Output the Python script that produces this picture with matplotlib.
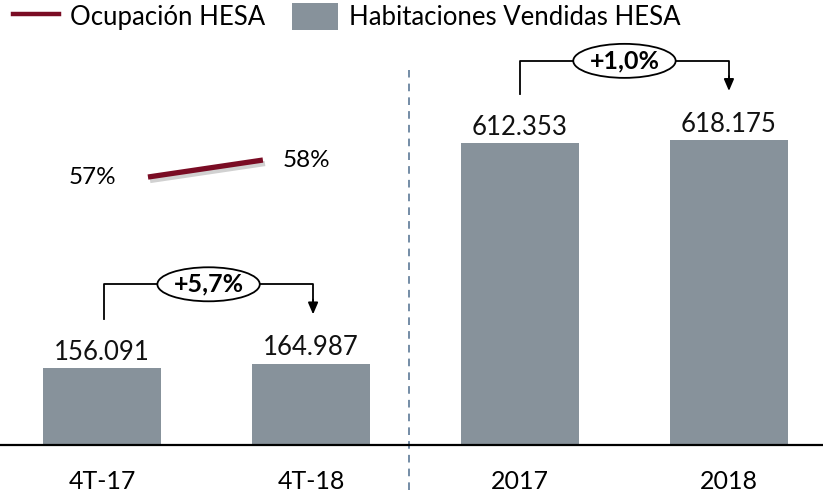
import matplotlib
matplotlib.use("Agg")
import matplotlib.pyplot as plt
import matplotlib.patheffects as pe
from matplotlib.patches import Ellipse
from matplotlib.lines import Line2D
from matplotlib.patches import Patch

categories = ["4T-17", "4T-18", "2017", "2018"]
habitaciones = [156.091, 164.987, 612.353, 618.175]
habitaciones_labels = ["156.091", "164.987", "612.353", "618.175"]
ocupacion = [57, 58]
ocupacion_labels = ["57%", "58%"]
variaciones = ["+5,7%", "+1,0%"]

BAR_COLOR = "#87929B"
LINE_COLOR = "#7A0C24"
FONT = "Lato"

plt.rcParams["font.family"] = [FONT, "DejaVu Sans"]

fig = plt.figure(figsize=(8.23, 4.96), dpi=100)
ax = fig.add_axes([0.0, 51 / 496, 1.0, 405 / 496])

x = list(range(len(categories)))
ax.bar(x, habitaciones, width=0.565, color=BAR_COLOR, zorder=2)
ax.set_xlim(-0.488, 3.45)
ax.set_ylim(0, 821.5)

for xi, v, lab in zip(x, habitaciones, habitaciones_labels):
    ax.text(xi, v + 17, lab, ha="center", va="baseline", fontsize=18.5,
            color="#111111")

ax.set_xticks(x)
ax.set_xticklabels(categories, fontsize=18)
ax.tick_params(axis="x", length=0, pad=18)
ax.set_yticks([])
for s in ["left", "right", "top"]:
    ax.spines[s].set_visible(False)
ax.spines["bottom"].set_linewidth(1.6)
ax.spines["bottom"].set_color("black")

# dashed separator between quarterly and annual figures
ax.plot([1.47, 1.47], [-92, 760], ls=(0, (5, 4)), color="#4E6E8E", lw=1.1,
        clip_on=False, zorder=1)

# growth brackets
def bracket(ax, x0, x1, v0, v1, text):
    top = max(v0, v1) + 161
    xm = (x0 + x1) / 2
    ew, eh = 0.49, 69
    ax.plot([x0, x0, xm - ew / 2], [v0 + 100, top, top], color="black", lw=1.3,
            clip_on=False, zorder=3)
    ax.plot([xm + ew / 2, x1, x1], [top, top, v1 + 128], color="black", lw=1.3,
            clip_on=False, zorder=3)
    ax.annotate("", xy=(x1, v1 + 100), xytext=(x1, v1 + 130),
                arrowprops=dict(arrowstyle="-|>,head_length=0.7,head_width=0.3",
                                color="black", lw=1.3, shrinkA=0, shrinkB=0),
                annotation_clip=False, zorder=3)
    ax.add_patch(Ellipse((xm, top), ew, eh, facecolor="white", edgecolor="black",
                         lw=1.3, clip_on=False, zorder=4))
    ax.text(xm, top, text, ha="center", va="center", fontsize=18,
            fontweight="bold", zorder=5)

bracket(ax, 0.01, 1.01, habitaciones[0], habitaciones[1], variaciones[0])
bracket(ax, 2.0, 3.0, habitaciones[2], habitaciones[3], variaciones[1])

# occupancy on a secondary scale
ax2 = ax.twinx()
ax2.set_ylim(41.24, 65.06)
ax2.axis("off")
line_x = [0.22, 0.77]
ax2.plot(line_x, ocupacion, color=LINE_COLOR, lw=3.8, solid_capstyle="butt",
         path_effects=[pe.SimpleLineShadow(offset=(1.5, -2.5), alpha=0.18, rho=0.3),
                       pe.Normal()], zorder=3)
ax2.text(line_x[0] - 0.15, ocupacion[0], ocupacion_labels[0], ha="right",
         va="center", fontsize=17.5)
ax2.text(line_x[1] + 0.095, ocupacion[1], ocupacion_labels[1], ha="left",
         va="center", fontsize=17.5)

handles = [Line2D([0], [0], color=LINE_COLOR, lw=3.2),
           Patch(facecolor=BAR_COLOR)]
fig.legend(handles, ["Ocupación HESA", "Habitaciones Vendidas HESA"],
           loc="upper left", bbox_to_anchor=(10 / 823, 1.0), ncol=2, frameon=False,
           fontsize=18.5, handlelength=1.8, handleheight=1.25, columnspacing=1.05,
           handletextpad=0.43, borderaxespad=0, borderpad=0.1)

fig.savefig("out.png", dpi=100)
